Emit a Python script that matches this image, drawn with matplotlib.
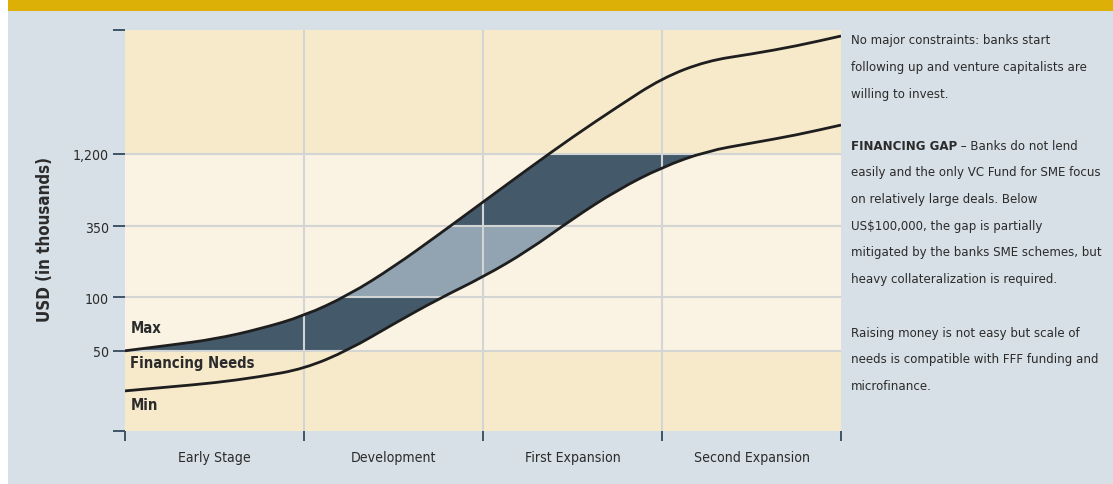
import matplotlib
matplotlib.use("Agg")
import matplotlib.pyplot as plt
from matplotlib import font_manager
from matplotlib.patches import Rectangle, PathPatch
from matplotlib.path import Path
import numpy as np

# stage positions (0 = start of Early Stage, 4 = end of Second Expansion)
stage_x = [0, 0.25, 0.5, 0.75, 1.0, 1.25, 1.5, 1.75, 2.0, 2.25, 2.5, 2.75, 3.0, 3.25, 3.5, 3.75, 4.0]
# curves in chart height units (0 = bottom, 100 = top)
max_curve = [20.0, 21.4, 22.9, 25.4, 28.7, 33.9, 40.9, 48.9, 57.1, 65.3, 73.3, 80.8, 88.0, 92.3, 94.0, 96.0, 98.5]
min_curve = [10.0, 11.0, 12.0, 13.5, 15.5, 20.2, 26.7, 32.9, 38.4, 44.9, 52.9, 60.1, 65.8, 69.8, 71.8, 73.8, 76.3]

stage_labels = ["Early Stage", "Development", "First Expansion", "Second Expansion"]
ytick_pos = [0, 20.0, 33.4, 51.1, 69.1, 100]
ytick_labels = ["", "50", "100", "350", "1,200", ""]

notes = [
    ["No major constraints: banks start",
     "following up and venture capitalists are",
     "willing to invest."],
    ["FINANCING GAP",
     "easily and the only VC Fund for SME focus",
     "on relatively large deals. Below",
     "US$100,000, the gap is partially",
     "mitigated by the banks SME schemes, but",
     "heavy collateralization is required."],
    ["Raising money is not easy but scale of",
     "needs is compatible with FFF funding and",
     "microfinance."],
]
note_tops = [40.7, 146, 333]

# colours
GOLD = "#ddb007"
BG = "#d7e0e6"
CREAM_DARK = "#f7eacb"
CREAM_LIGHT = "#faf3e3"
GRID = "#d3d4d4"
FILL_DARK = "#445a6b"
FILL_LIGHT = "#92a4b1"
TICK = "#3e5566"
TXT = "#2b2b2b"

# pick a narrow face if one is installed
narrow = None
for f in font_manager.fontManager.ttflist:
    if f.stretch in ("condensed", "semi-condensed", "extra-condensed") or \
            "Narrow" in f.name or "Condensed" in f.name:
        narrow = f
        break
if narrow is not None:
    plt.rcParams["font.family"] = [narrow.name, "DejaVu Sans"]
    plt.rcParams["font.stretch"] = narrow.stretch
else:
    plt.rcParams["font.family"] = ["Roboto", "DejaVu Sans"]

W, H = 1113, 485
fig = plt.figure(figsize=(W / 100, H / 100), dpi=100)
fig.patch.set_facecolor("white")
renderer = fig.canvas.get_renderer()

def fx(px):
    return px / W

def fy(py):
    return 1 - py / H

def fit(t, target, vertical=False):
    bb = t.get_window_extent(renderer)
    size = bb.height if vertical else bb.width
    t.set_fontsize(t.get_fontsize() * target / size)
    return t.get_fontsize()

# page background and gold band
fig.add_artist(Rectangle((fx(8), 0), 1 - fx(8), fy(12), transform=fig.transFigure,
                         facecolor=BG, edgecolor="none", zorder=-10))
fig.add_artist(Rectangle((fx(8), fy(12)), 1 - fx(8), 12 / H, transform=fig.transFigure,
                         facecolor=GOLD, edgecolor="none", zorder=-10))

ax = fig.add_axes([fx(125), fy(432), (841 - 125) / W, (432 - 31) / H])
ax.set_xlim(0, 4)
ax.set_ylim(0, 100)
ax.patch.set_alpha(0)

# background bands
ax.axhspan(0, ytick_pos[1], color=CREAM_DARK, zorder=0, lw=0)
ax.axhspan(ytick_pos[1], ytick_pos[4], color=CREAM_LIGHT, zorder=0, lw=0)
ax.axhspan(ytick_pos[4], 100, color=CREAM_DARK, zorder=0, lw=0)


def smooth_path(xs, ys):
    verts = [(xs[0], ys[0])]
    codes = [Path.MOVETO]
    for i in range(1, len(xs) - 1):
        verts += [(xs[i], ys[i]), ((xs[i] + xs[i + 1]) / 2, (ys[i] + ys[i + 1]) / 2)]
        codes += [Path.CURVE3, Path.CURVE3]
    verts.append((xs[-1], ys[-1]))
    codes.append(Path.LINETO)
    return Path(verts, codes)


up_path = smooth_path(stage_x, max_curve)
lo_path = smooth_path(stage_x, min_curve)
up_poly = up_path.to_polygons(closed_only=False)[0]
lo_poly = lo_path.to_polygons(closed_only=False)[0]

# financing gap fill: dark between 50 and 1,200, lighter between 100 and 350
xf = np.linspace(0, 4, 1200)
upf = np.interp(xf, up_poly[:, 0], up_poly[:, 1])
lof = np.interp(xf, lo_poly[:, 0], lo_poly[:, 1])
b1 = np.clip(lof, ytick_pos[1], ytick_pos[4])
t1 = np.clip(upf, ytick_pos[1], ytick_pos[4])
ax.fill_between(xf, b1, t1, where=t1 > b1, color=FILL_DARK, lw=0, zorder=1)
b2 = np.clip(lof, ytick_pos[2], ytick_pos[3])
t2 = np.clip(upf, ytick_pos[2], ytick_pos[3])
ax.fill_between(xf, b2, t2, where=t2 > b2, color=FILL_LIGHT, lw=0, zorder=1)

# grid
for gx in [1, 2, 3]:
    ax.axvline(gx, color=GRID, lw=1.5, zorder=2)
for gy in ytick_pos[1:5]:
    ax.axhline(gy, color=GRID, lw=1.5, zorder=2)

for p in (up_path, lo_path):
    ax.add_patch(PathPatch(p, fill=False, edgecolor="#1e1e1e", lw=2.0, zorder=3,
                           capstyle="butt", joinstyle="round"))

for s in ax.spines.values():
    s.set_visible(False)

ax.set_yticks(ytick_pos)
ax.set_yticklabels(ytick_labels)
ax.set_xticks([0, 1, 2, 3, 4])
ax.set_xticklabels([])
ax.set_xticks([0.5, 1.5, 2.5, 3.5], minor=True)
ax.set_xticklabels(stage_labels, minor=True)

# size tick labels to the reference widths
probe = fig.text(0, 0, "1,200", fontsize=12)
ysize = fit(probe, 36)
probe.remove()
probe = fig.text(0, 0, "Early Stage", fontsize=12)
xsize = fit(probe, 72)
probe.remove()

ax.tick_params(axis="y", direction="out", length=8.5, width=1.4, color=TICK,
               labelsize=ysize, labelcolor=TXT, pad=3)
ax.tick_params(axis="x", which="major", direction="out", length=7, width=1.4, color=TICK)
ax.tick_params(axis="x", which="minor", length=0, labelsize=xsize, labelcolor=TXT, pad=14)

t = ax.text(0.03, 17.0, "Financing Needs", fontsize=12, fontweight="bold", color=TXT,
            va="center", zorder=4)
lab_size = fit(t, 124)
ax.text(0.03, 25.9, "Max", fontsize=lab_size, fontweight="bold", color=TXT, va="center", zorder=4)
ax.text(0.03, 6.7, "Min", fontsize=lab_size, fontweight="bold", color=TXT, va="center", zorder=4)

t = fig.text(fx(45), fy(240), "USD (in thousands)", rotation=90, fontsize=12,
             fontweight="bold", color=TXT, ha="center", va="center")
fit(t, 165, vertical=True)

# notes on the right
probe = fig.text(0, 0, "easily and the only VC Fund for SME focus", fontsize=12)
note_size = fit(probe, 250)
probe.remove()

step = 26.7
for lines, top in zip(notes, note_tops):
    for i, line in enumerate(lines):
        y = fy(top + i * step)
        if line == "FINANCING GAP":
            t = fig.text(fx(851), y, line, fontsize=note_size, fontweight="bold",
                         color=TXT, va="center")
            ax.annotate(" \u2013 Banks do not lend", xy=(1, 0.5), xycoords=t,
                        fontsize=note_size, color=TXT, va="center", ha="left",
                        annotation_clip=False)
        else:
            fig.text(fx(851), y, line, fontsize=note_size, color=TXT, va="center")

fig.savefig("out.png", dpi=100, facecolor=fig.get_facecolor())
